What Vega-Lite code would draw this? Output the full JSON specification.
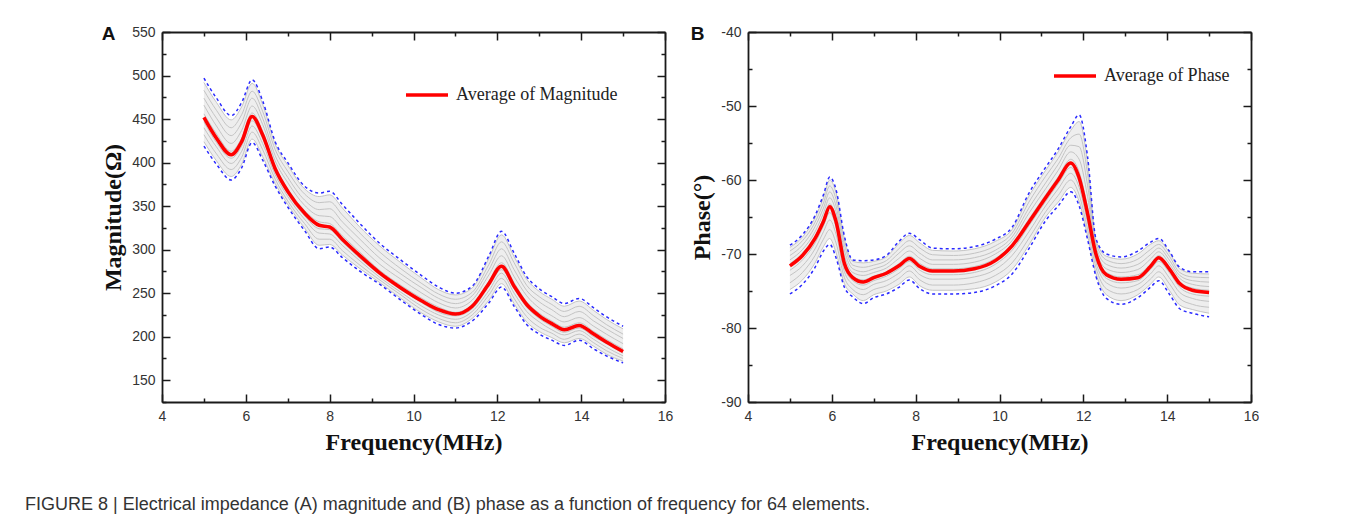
{
  "$schema": "https://vega.github.io/schema/vega-lite/v6.json",
  "padding": {"left": 25, "top": 25, "right": 0, "bottom": 0},
  "datasets": {
    "mag": [
      {"f":5.0,"avg":452,"hi":497,"lo":419,"g1":424,"g2":432,"g3":440,"g4":447,"g5":456,"g6":466,"g7":474,"g8":483,"g9":492},
      {"f":5.3,"avg":428,"hi":474,"lo":398,"g1":402,"g2":410,"g3":418,"g4":423,"g5":433,"g6":442,"g7":451,"g8":460,"g9":469},
      {"f":5.65,"avg":409,"hi":454,"lo":380,"g1":384,"g2":392,"g3":399,"g4":405,"g5":413,"g6":422,"g7":431,"g8":440,"g9":449},
      {"f":5.9,"avg":424,"hi":469,"lo":394,"g1":398,"g2":406,"g3":413,"g4":419,"g5":428,"g6":437,"g7":446,"g8":455,"g9":464},
      {"f":6.15,"avg":453,"hi":495,"lo":423,"g1":427,"g2":435,"g3":442,"g4":448,"g5":457,"g6":465,"g7":474,"g8":482,"g9":491},
      {"f":6.4,"avg":432,"hi":471,"lo":403,"g1":407,"g2":415,"g3":422,"g4":428,"g5":436,"g6":444,"g7":451,"g8":459,"g9":467},
      {"f":6.7,"avg":393,"hi":424,"lo":373,"g1":376,"g2":381,"g3":386,"g4":390,"g5":396,"g6":402,"g7":408,"g8":415,"g9":421},
      {"f":7.0,"avg":367,"hi":400,"lo":349,"g1":352,"g2":356,"g3":361,"g4":364,"g5":370,"g6":377,"g7":383,"g8":390,"g9":397},
      {"f":7.4,"avg":342,"hi":373,"lo":322,"g1":325,"g2":330,"g3":335,"g4":339,"g5":345,"g6":351,"g7":357,"g8":364,"g9":370},
      {"f":7.75,"avg":328,"hi":365,"lo":301,"g1":305,"g2":312,"g3":319,"g4":324,"g5":332,"g6":339,"g7":346,"g8":354,"g9":361},
      {"f":8.0,"avg":326,"hi":367,"lo":303,"g1":306,"g2":312,"g3":318,"g4":323,"g5":330,"g6":338,"g7":347,"g8":355,"g9":363},
      {"f":8.3,"avg":312,"hi":352,"lo":291,"g1":294,"g2":299,"g3":305,"g4":309,"g5":316,"g6":324,"g7":332,"g8":340,"g9":348},
      {"f":8.7,"avg":294,"hi":331,"lo":276,"g1":279,"g2":283,"g3":288,"g4":291,"g5":298,"g6":305,"g7":313,"g8":320,"g9":327},
      {"f":9.2,"avg":273,"hi":307,"lo":260,"g1":262,"g2":265,"g3":268,"g4":271,"g5":276,"g6":283,"g7":290,"g8":297,"g9":304},
      {"f":9.7,"avg":256,"hi":288,"lo":242,"g1":244,"g2":248,"g3":251,"g4":254,"g5":259,"g6":266,"g7":272,"g8":278,"g9":285},
      {"f":10.2,"avg":241,"hi":270,"lo":225,"g1":227,"g2":231,"g3":235,"g4":239,"g5":244,"g6":250,"g7":256,"g8":261,"g9":267},
      {"f":10.6,"avg":231,"hi":257,"lo":214,"g1":217,"g2":221,"g3":225,"g4":228,"g5":234,"g6":239,"g7":244,"g8":249,"g9":254},
      {"f":11.0,"avg":226,"hi":250,"lo":210,"g1":212,"g2":216,"g3":220,"g4":224,"g5":228,"g6":233,"g7":238,"g8":243,"g9":248},
      {"f":11.4,"avg":235,"hi":258,"lo":218,"g1":221,"g2":225,"g3":229,"g4":232,"g5":237,"g6":242,"g7":247,"g8":251,"g9":256},
      {"f":11.8,"avg":261,"hi":293,"lo":239,"g1":242,"g2":248,"g3":253,"g4":258,"g5":264,"g6":271,"g7":277,"g8":283,"g9":290},
      {"f":12.1,"avg":281,"hi":321,"lo":257,"g1":261,"g2":267,"g3":273,"g4":277,"g5":285,"g6":293,"g7":301,"g8":309,"g9":317},
      {"f":12.4,"avg":258,"hi":296,"lo":235,"g1":238,"g2":244,"g3":250,"g4":255,"g5":262,"g6":269,"g7":277,"g8":285,"g9":292},
      {"f":12.7,"avg":237,"hi":269,"lo":214,"g1":217,"g2":223,"g3":229,"g4":234,"g5":240,"g6":247,"g7":253,"g8":259,"g9":266},
      {"f":13.0,"avg":224,"hi":255,"lo":203,"g1":206,"g2":211,"g3":217,"g4":221,"g5":227,"g6":233,"g7":240,"g8":246,"g9":252},
      {"f":13.3,"avg":215,"hi":246,"lo":196,"g1":199,"g2":204,"g3":208,"g4":212,"g5":218,"g6":224,"g7":231,"g8":237,"g9":243},
      {"f":13.6,"avg":208,"hi":238,"lo":190,"g1":193,"g2":197,"g3":202,"g4":205,"g5":211,"g6":217,"g7":223,"g8":229,"g9":235},
      {"f":13.95,"avg":213,"hi":244,"lo":196,"g1":198,"g2":203,"g3":207,"g4":210,"g5":216,"g6":222,"g7":229,"g8":235,"g9":241},
      {"f":14.3,"avg":203,"hi":233,"lo":186,"g1":189,"g2":193,"g3":197,"g4":200,"g5":206,"g6":212,"g7":218,"g8":224,"g9":230},
      {"f":14.6,"avg":194,"hi":223,"lo":178,"g1":180,"g2":184,"g3":188,"g4":192,"g5":197,"g6":203,"g7":209,"g8":214,"g9":220},
      {"f":15.0,"avg":183,"hi":212,"lo":170,"g1":172,"g2":175,"g3":178,"g4":181,"g5":186,"g6":192,"g7":198,"g8":203,"g9":209}
    ],
    "phase": [
      {"f":5.0,"avg":-71.6,"hi":-68.8,"lo":-75.4,"g1":-74.8,"g2":-73.9,"g3":-72.9,"g4":-72.2,"g5":-71.3,"g6":-70.8,"g7":-70.2,"g8":-69.6,"g9":-69.1},
      {"f":5.3,"avg":-70.2,"hi":-67.4,"lo":-74.1,"g1":-73.5,"g2":-72.5,"g3":-71.6,"g4":-70.8,"g5":-69.9,"g6":-69.4,"g7":-68.8,"g8":-68.2,"g9":-67.7},
      {"f":5.6,"avg":-67.9,"hi":-64.8,"lo":-71.8,"g1":-71.2,"g2":-70.2,"g3":-69.3,"g4":-68.5,"g5":-67.6,"g6":-67.0,"g7":-66.3,"g8":-65.7,"g9":-65.1},
      {"f":5.8,"avg":-65.6,"hi":-62.0,"lo":-69.6,"g1":-69.0,"g2":-68.0,"g3":-67.0,"g4":-66.2,"g5":-65.2,"g6":-64.5,"g7":-63.8,"g8":-63.1,"g9":-62.4},
      {"f":5.95,"avg":-63.6,"hi":-59.6,"lo":-68.7,"g1":-67.9,"g2":-66.7,"g3":-65.4,"g4":-64.4,"g5":-63.2,"g6":-62.4,"g7":-61.6,"g8":-60.8,"g9":-60.0},
      {"f":6.1,"avg":-65.6,"hi":-61.3,"lo":-70.5,"g1":-69.8,"g2":-68.5,"g3":-67.3,"g4":-66.3,"g5":-65.2,"g6":-64.3,"g7":-63.5,"g8":-62.6,"g9":-61.7},
      {"f":6.3,"avg":-71.3,"hi":-67.6,"lo":-74.5,"g1":-74.0,"g2":-73.2,"g3":-72.4,"g4":-71.8,"g5":-70.9,"g6":-70.2,"g7":-69.5,"g8":-68.7,"g9":-68.0},
      {"f":6.5,"avg":-73.2,"hi":-70.8,"lo":-75.8,"g1":-75.4,"g2":-74.8,"g3":-74.1,"g4":-73.6,"g5":-73.0,"g6":-72.5,"g7":-72.0,"g8":-71.5,"g9":-71.0},
      {"f":6.75,"avg":-73.8,"hi":-70.9,"lo":-76.7,"g1":-76.3,"g2":-75.5,"g3":-74.8,"g4":-74.2,"g5":-73.5,"g6":-72.9,"g7":-72.4,"g8":-71.8,"g9":-71.2},
      {"f":7.0,"avg":-73.2,"hi":-70.8,"lo":-75.9,"g1":-75.5,"g2":-74.8,"g3":-74.1,"g4":-73.6,"g5":-73.0,"g6":-72.5,"g7":-72.0,"g8":-71.5,"g9":-71.0},
      {"f":7.3,"avg":-72.6,"hi":-70.2,"lo":-75.4,"g1":-75.0,"g2":-74.3,"g3":-73.6,"g4":-73.0,"g5":-72.4,"g6":-71.9,"g7":-71.4,"g8":-70.9,"g9":-70.4},
      {"f":7.6,"avg":-71.6,"hi":-68.3,"lo":-74.5,"g1":-74.1,"g2":-73.3,"g3":-72.6,"g4":-72.0,"g5":-71.3,"g6":-70.6,"g7":-69.9,"g8":-69.3,"g9":-68.6},
      {"f":7.85,"avg":-70.6,"hi":-67.2,"lo":-73.5,"g1":-73.1,"g2":-72.3,"g3":-71.6,"g4":-71.0,"g5":-70.3,"g6":-69.6,"g7":-68.9,"g8":-68.2,"g9":-67.5},
      {"f":8.1,"avg":-71.7,"hi":-68.1,"lo":-74.7,"g1":-74.3,"g2":-73.5,"g3":-72.8,"g4":-72.2,"g5":-71.3,"g6":-70.6,"g7":-69.9,"g8":-69.2,"g9":-68.5},
      {"f":8.4,"avg":-72.3,"hi":-69.2,"lo":-75.4,"g1":-74.9,"g2":-74.2,"g3":-73.4,"g4":-72.8,"g5":-72.0,"g6":-71.4,"g7":-70.8,"g8":-70.1,"g9":-69.5},
      {"f":8.9,"avg":-72.3,"hi":-69.3,"lo":-75.4,"g1":-74.9,"g2":-74.2,"g3":-73.4,"g4":-72.8,"g5":-72.0,"g6":-71.4,"g7":-70.8,"g8":-70.2,"g9":-69.6},
      {"f":9.4,"avg":-72.0,"hi":-69.0,"lo":-75.2,"g1":-74.7,"g2":-73.9,"g3":-73.1,"g4":-72.5,"g5":-71.7,"g6":-71.1,"g7":-70.5,"g8":-69.9,"g9":-69.3},
      {"f":9.9,"avg":-70.9,"hi":-68.0,"lo":-74.3,"g1":-73.8,"g2":-72.9,"g3":-72.1,"g4":-71.4,"g5":-70.6,"g6":-70.0,"g7":-69.5,"g8":-68.9,"g9":-68.3},
      {"f":10.3,"avg":-68.9,"hi":-66.4,"lo":-72.7,"g1":-72.1,"g2":-71.2,"g3":-70.2,"g4":-69.5,"g5":-68.7,"g6":-68.2,"g7":-67.7,"g8":-67.2,"g9":-66.7},
      {"f":10.7,"avg":-65.7,"hi":-61.8,"lo":-69.3,"g1":-68.8,"g2":-67.9,"g3":-67.0,"g4":-66.2,"g5":-65.3,"g6":-64.5,"g7":-63.8,"g8":-63.0,"g9":-62.2},
      {"f":11.1,"avg":-62.4,"hi":-58.3,"lo":-65.5,"g1":-65.0,"g2":-64.3,"g3":-63.5,"g4":-62.9,"g5":-62.0,"g6":-61.2,"g7":-60.4,"g8":-59.5,"g9":-58.7},
      {"f":11.4,"avg":-60.0,"hi":-55.8,"lo":-63.5,"g1":-63.0,"g2":-62.1,"g3":-61.2,"g4":-60.5,"g5":-59.6,"g6":-58.7,"g7":-57.9,"g8":-57.1,"g9":-56.2},
      {"f":11.7,"avg":-57.7,"hi":-52.8,"lo":-61.6,"g1":-61.0,"g2":-60.0,"g3":-59.1,"g4":-58.3,"g5":-57.2,"g6":-56.2,"g7":-55.3,"g8":-54.3,"g9":-53.3},
      {"f":11.9,"avg":-59.7,"hi":-51.2,"lo":-63.5,"g1":-62.9,"g2":-62.0,"g3":-61.0,"g4":-60.3,"g5":-58.9,"g6":-57.2,"g7":-55.5,"g8":-53.8,"g9":-52.1},
      {"f":12.1,"avg":-64.5,"hi":-56.8,"lo":-68.0,"g1":-67.5,"g2":-66.6,"g3":-65.7,"g4":-65.0,"g5":-63.7,"g6":-62.2,"g7":-60.7,"g8":-59.1,"g9":-57.6},
      {"f":12.3,"avg":-70.0,"hi":-67.9,"lo":-73.0,"g1":-72.6,"g2":-71.8,"g3":-71.1,"g4":-70.5,"g5":-69.8,"g6":-69.4,"g7":-69.0,"g8":-68.5,"g9":-68.1},
      {"f":12.55,"avg":-72.8,"hi":-70.0,"lo":-76.0,"g1":-75.5,"g2":-74.7,"g3":-73.9,"g4":-73.3,"g5":-72.5,"g6":-72.0,"g7":-71.4,"g8":-70.8,"g9":-70.3},
      {"f":12.9,"avg":-73.4,"hi":-70.4,"lo":-76.8,"g1":-76.3,"g2":-75.4,"g3":-74.6,"g4":-73.9,"g5":-73.1,"g6":-72.5,"g7":-71.9,"g8":-71.3,"g9":-70.7},
      {"f":13.3,"avg":-73.2,"hi":-69.6,"lo":-75.9,"g1":-75.5,"g2":-74.8,"g3":-74.1,"g4":-73.6,"g5":-72.8,"g6":-72.1,"g7":-71.4,"g8":-70.7,"g9":-70.0},
      {"f":13.6,"avg":-71.7,"hi":-68.4,"lo":-74.5,"g1":-74.1,"g2":-73.4,"g3":-72.7,"g4":-72.1,"g5":-71.4,"g6":-70.7,"g7":-70.1,"g8":-69.4,"g9":-68.7},
      {"f":13.8,"avg":-70.5,"hi":-67.9,"lo":-73.6,"g1":-73.1,"g2":-72.4,"g3":-71.6,"g4":-71.0,"g5":-70.2,"g6":-69.7,"g7":-69.2,"g8":-68.7,"g9":-68.2},
      {"f":14.05,"avg":-72.0,"hi":-69.6,"lo":-75.4,"g1":-74.9,"g2":-74.0,"g3":-73.2,"g4":-72.5,"g5":-71.8,"g6":-71.3,"g7":-70.8,"g8":-70.3,"g9":-69.8},
      {"f":14.3,"avg":-74.0,"hi":-71.8,"lo":-77.4,"g1":-76.9,"g2":-76.0,"g3":-75.2,"g4":-74.5,"g5":-73.8,"g6":-73.3,"g7":-72.9,"g8":-72.5,"g9":-72.0},
      {"f":14.6,"avg":-74.9,"hi":-72.4,"lo":-78.0,"g1":-77.5,"g2":-76.8,"g3":-76.0,"g4":-75.4,"g5":-74.6,"g6":-74.1,"g7":-73.6,"g8":-73.1,"g9":-72.6},
      {"f":15.0,"avg":-75.2,"hi":-72.4,"lo":-78.5,"g1":-78.0,"g2":-77.2,"g3":-76.4,"g4":-75.7,"g5":-74.9,"g6":-74.4,"g7":-73.8,"g8":-73.2,"g9":-72.7}
    ]
  },
  "title": {
    "text": "FIGURE 8 | Electrical impedance (A) magnitude and (B) phase as a function of frequency for 64 elements.",
    "orient": "bottom", "anchor": "start", "frame": "group",
    "font": "Liberation Sans", "fontSize": 18, "fontWeight": "normal",
    "color": "#333333", "offset": 42
  },
  "spacing": 17,
  "hconcat": [
    {
      "width": 59, "height": 370,
      "data": {"values": []},
      "mark": {"type": "point", "opacity": 0},
      "encoding": {}
    },
    {
      "width": 503, "height": 370,
      "data": {"name": "mag"},
      "title": {"text": "A", "anchor": "start", "frame": "bounds", "font": "Liberation Sans", "fontSize": 19, "fontWeight": "bold", "color": "#111111", "offset": -19},
      "layer": [
        {
          "mark": {"type": "area", "interpolate": "monotone", "color": "#e2e2e2", "opacity": 0.6},
          "encoding": {
            "x": {"field": "f", "type": "quantitative", "scale": {"domain": [4,16], "nice": false, "zero": false}, "axis": null},
            "y": {"field": "g1", "type": "quantitative", "scale": {"domain": [125,550], "nice": false, "zero": false}, "axis": null},
            "y2": {"field": "g9"}
          }
        },
        {
          "transform": [{"fold": ["g1","g2","g3","g4","g5","g6","g7","g8","g9"], "as": ["k","v"]}],
          "mark": {"type": "line", "interpolate": "monotone", "color": "#c4c4c4", "strokeWidth": 1},
          "encoding": {
            "x": {"field": "f", "type": "quantitative", "scale": {"domain": [4,16], "nice": false, "zero": false},
              "axis": {"orient": "bottom", "values": [4,5,6,7,8,9,10,11,12,13,14,15,16],
                "labelExpr": "datum.value % 2 == 0 ? datum.label : ''",
                "tickSize": {"condition": {"test": "datum.value % 2 == 0", "value": -8}, "value": -4},
                "labelFontSize": 14, "labelPadding": 15, "title": "Frequency(MHz)", "titlePadding": 3}},
            "y": {"field": "v", "type": "quantitative", "scale": {"domain": [125,550], "nice": false, "zero": false},
              "axis": {"orient": "left", "values": [125,150,175,200,225,250,275,300,325,350,375,400,425,450,475,500,525,550],
                "labelExpr": "datum.value % 50 == 0 ? datum.label : ''",
                "tickSize": {"condition": {"test": "datum.value % 50 == 0", "value": -8}, "value": -4},
                "labelFontSize": 14, "labelPadding": 15, "title": "Magnitude(Ω)", "titlePadding": 6}},
            "detail": {"field": "k"}
          }
        },
        {
          "transform": [{"fold": ["hi","lo"], "as": ["k","v"]}],
          "mark": {"type": "line", "interpolate": "monotone", "color": "#2a2aff", "strokeWidth": 1.5, "strokeDash": [3,3]},
          "encoding": {
            "x": {"field": "f", "type": "quantitative", "scale": {"domain": [4,16], "nice": false, "zero": false},
              "axis": {"orient": "top", "values": [4,5,6,7,8,9,10,11,12,13,14,15,16], "labels": false, "title": null,
                "tickSize": {"condition": {"test": "datum.value % 2 == 0", "value": -8}, "value": -4}}},
            "y": {"field": "v", "type": "quantitative", "scale": {"domain": [125,550], "nice": false, "zero": false},
              "axis": {"orient": "right", "values": [125,150,175,200,225,250,275,300,325,350,375,400,425,450,475,500,525,550], "labels": false, "title": null,
                "tickSize": {"condition": {"test": "datum.value % 50 == 0", "value": -8}, "value": -4}}},
            "detail": {"field": "k"}
          }
        },
        {
          "mark": {"type": "line", "interpolate": "monotone", "strokeWidth": 3.5},
          "encoding": {
            "x": {"field": "f", "type": "quantitative", "scale": {"domain": [4,16], "nice": false, "zero": false}, "axis": null},
            "y": {"field": "avg", "type": "quantitative", "scale": {"domain": [125,550], "nice": false, "zero": false}, "axis": null},
            "color": {"datum": "Average of Magnitude", "type": "nominal", "scale": {"range": ["#ff0000"]},
              "legend": {"orient": "none", "legendX": 242, "legendY": 40, "title": null, "symbolType": "stroke", "symbolSize": 1764,
                "symbolStrokeWidth": 3.5, "labelFont": "Liberation Serif", "labelFontSize": 18, "labelColor": "#222222", "labelOffset": 6, "labelLimit": 0, "padding": 0}}
          }
        }
      ],
      "resolve": {"axis": {"x": "independent", "y": "independent"}}
    },
    {
      "width": 503, "height": 370,
      "data": {"name": "phase"},
      "title": {"text": "B", "anchor": "start", "frame": "bounds", "font": "Liberation Sans", "fontSize": 19, "fontWeight": "bold", "color": "#111111", "offset": -19},
      "layer": [
        {
          "mark": {"type": "area", "interpolate": "monotone", "color": "#e2e2e2", "opacity": 0.6},
          "encoding": {
            "x": {"field": "f", "type": "quantitative", "scale": {"domain": [4,16], "nice": false, "zero": false}, "axis": null},
            "y": {"field": "g1", "type": "quantitative", "scale": {"domain": [-90,-40], "nice": false, "zero": false}, "axis": null},
            "y2": {"field": "g9"}
          }
        },
        {
          "transform": [{"fold": ["g1","g2","g3","g4","g5","g6","g7","g8","g9"], "as": ["k","v"]}],
          "mark": {"type": "line", "interpolate": "monotone", "color": "#c4c4c4", "strokeWidth": 1},
          "encoding": {
            "x": {"field": "f", "type": "quantitative", "scale": {"domain": [4,16], "nice": false, "zero": false},
              "axis": {"orient": "bottom", "values": [4,5,6,7,8,9,10,11,12,13,14,15,16],
                "labelExpr": "datum.value % 2 == 0 ? datum.label : ''",
                "tickSize": {"condition": {"test": "datum.value % 2 == 0", "value": -8}, "value": -4},
                "labelFontSize": 14, "labelPadding": 15, "title": "Frequency(MHz)", "titlePadding": 3}},
            "y": {"field": "v", "type": "quantitative", "scale": {"domain": [-90,-40], "nice": false, "zero": false},
              "axis": {"orient": "left", "values": [-90,-85,-80,-75,-70,-65,-60,-55,-50,-45,-40],
                "labelExpr": "datum.value % 10 == 0 ? '' + datum.value : ''",
                "tickSize": {"condition": {"test": "datum.value % 10 == 0", "value": -8}, "value": -4},
                "labelFontSize": 14, "labelPadding": 15, "title": "Phase(°)", "titlePadding": 6}},
            "detail": {"field": "k"}
          }
        },
        {
          "transform": [{"fold": ["hi","lo"], "as": ["k","v"]}],
          "mark": {"type": "line", "interpolate": "monotone", "color": "#2a2aff", "strokeWidth": 1.5, "strokeDash": [3,3]},
          "encoding": {
            "x": {"field": "f", "type": "quantitative", "scale": {"domain": [4,16], "nice": false, "zero": false},
              "axis": {"orient": "top", "values": [4,5,6,7,8,9,10,11,12,13,14,15,16], "labels": false, "title": null,
                "tickSize": {"condition": {"test": "datum.value % 2 == 0", "value": -8}, "value": -4}}},
            "y": {"field": "v", "type": "quantitative", "scale": {"domain": [-90,-40], "nice": false, "zero": false},
              "axis": {"orient": "right", "values": [-90,-85,-80,-75,-70,-65,-60,-55,-50,-45,-40], "labels": false, "title": null,
                "tickSize": {"condition": {"test": "datum.value % 10 == 0", "value": -8}, "value": -4}}},
            "detail": {"field": "k"}
          }
        },
        {
          "mark": {"type": "line", "interpolate": "monotone", "strokeWidth": 3.5},
          "encoding": {
            "x": {"field": "f", "type": "quantitative", "scale": {"domain": [4,16], "nice": false, "zero": false}, "axis": null},
            "y": {"field": "avg", "type": "quantitative", "scale": {"domain": [-90,-40], "nice": false, "zero": false}, "axis": null},
            "color": {"datum": "Average of Phase", "type": "nominal", "scale": {"range": ["#ff0000"]},
              "legend": {"orient": "none", "legendX": 304, "legendY": 21, "title": null, "symbolType": "stroke", "symbolSize": 1764,
                "symbolStrokeWidth": 3.5, "labelFont": "Liberation Serif", "labelFontSize": 18, "labelColor": "#222222", "labelOffset": 6, "labelLimit": 0, "padding": 0}}
          }
        }
      ],
      "resolve": {"axis": {"x": "independent", "y": "independent"}}
    }
  ],
  "resolve": {"scale": {"color": "independent"}, "legend": {"color": "independent"}},
  "config": {
    "view": {"stroke": null},
    "axis": {
      "grid": false, "domainColor": "#1a1a1a", "domainWidth": 1.8, "tickColor": "#1a1a1a", "tickWidth": 1.5,
      "labelFont": "Liberation Sans", "labelFontSize": 14, "labelColor": "#333333", "labelFlush": false, "labelOverlap": false,
      "titleFont": "Liberation Serif", "titleFontSize": 24, "titleFontWeight": "bold", "titleColor": "#111111"
    }
  }
}
